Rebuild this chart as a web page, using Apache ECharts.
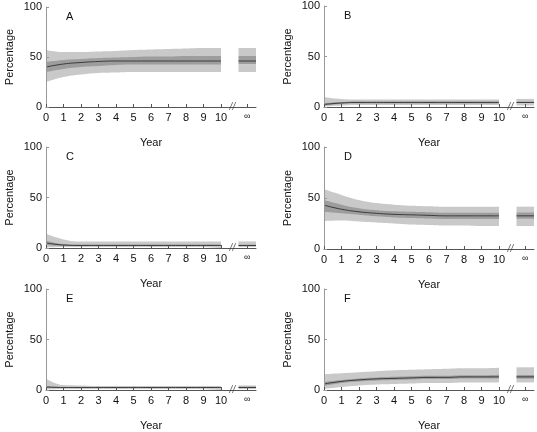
<!DOCTYPE html>
<html>
<head>
<meta charset="utf-8">
<script src="https://cdn.jsdelivr.net/npm/echarts@6/dist/echarts.min.js"></script>
<style>
html,body{margin:0;padding:0;background:#fff;}
#chart{width:537px;height:432px;}
</style>
</head>
<body>
<div id="chart"></div>
<script>
// ---------- DATA ----------
const years = [0, 1, 2, 3, 4, 5, 6, 7, 8, 9, 10];
const xTickValues = [0, 1, 2, 3, 4, 5, 6, 7, 8, 9, 10];
const panelLetters = ['A', 'B', 'C', 'D', 'E', 'F'];
const infLabel = '\u221e';

// Panel A
const A_mean    = [40, 43, 44.5, 45.5, 46, 46, 46, 46, 46, 46, 46];
const A_innerLo = [35, 38, 40, 41, 42, 42.5, 42.5, 42.5, 42.5, 42.5, 42.5];
const A_innerHi = [45, 47, 48, 49, 49.5, 50, 50.5, 50.5, 51, 51, 51];
const A_outerLo = [25, 30, 32.5, 34, 34.5, 35, 35, 35, 35, 35, 35];
const A_outerHi = [57, 55, 55, 55.5, 56, 57, 57.5, 58, 58.5, 59, 59];
const A_inf     = [46, 42.5, 51, 35, 59]; // mean, innerLo, innerHi, outerLo, outerHi

// Panel B
const B_mean    = [2.5, 4, 4.5, 4.5, 4.5, 4.5, 4.5, 4.5, 4.5, 4.5, 4.5];
const B_innerLo = [1.5, 3, 3.5, 3.5, 3.5, 3.5, 3.5, 3.5, 3.5, 3.5, 3.5];
const B_innerHi = [4, 5, 5.5, 5.5, 5.5, 5.5, 5.5, 5.5, 5.5, 5.5, 5.5];
const B_outerLo = [0.5, 1.5, 2, 2, 2, 2, 2, 2, 2, 2, 2];
const B_outerHi = [10, 8, 7.5, 7.5, 7.5, 7.5, 7.5, 7.5, 7.5, 7.5, 7.5];
const B_inf     = [4.5, 3.5, 5.5, 1.5, 8];

// Panel C
const C_mean    = [5, 3, 2.5, 2.5, 2.5, 2.5, 2.5, 2.5, 2.5, 2.5, 2.5];
const C_innerLo = [3, 2, 2, 2, 2, 2, 2, 2, 2, 2, 2];
const C_innerHi = [7.5, 4, 3.5, 3.5, 3.5, 3.5, 3.5, 3.5, 3.5, 3.5, 3.5];
const C_outerLo = [0.5, 1, 1, 1, 1, 1, 1, 1, 1, 1, 1];
const C_outerHi = [14, 8.5, 6.5, 6.5, 6.5, 6.5, 6.5, 6.5, 6.5, 6.5, 6.5];
const C_inf     = [2.5, 2, 3.5, 1, 6.5];

// Panel D
const D_mean    = [43, 39, 36.5, 35, 34, 33.5, 33, 32.5, 32.5, 32.5, 32.5];
const D_innerLo = [36.5, 35, 33.5, 32, 31, 30.5, 30, 29.5, 29.5, 29.5, 29.5];
const D_innerHi = [48, 43.5, 40, 38, 37, 36.5, 36, 35.5, 35.5, 35.5, 35.5];
const D_outerLo = [27.5, 28, 27, 26, 25, 24, 23.5, 23, 23, 22.5, 22.5];
const D_outerHi = [58.5, 53, 48, 45, 43.5, 42.5, 42, 41.5, 41.5, 41.5, 41.5];
const D_inf     = [32.5, 29.5, 36, 22.5, 41.5];

// Panel E
const E_mean    = [3, 2.5, 2.5, 2.5, 2.5, 2.5, 2.5, 2.5, 2.5, 2.5, 2.5];
const E_innerLo = [2, 2, 2, 2, 2, 2, 2, 2, 2, 2, 2];
const E_innerHi = [4, 3, 3, 3, 3, 3, 3, 3, 3, 3, 3];
const E_outerLo = [0.5, 1, 1, 1, 1, 1, 1, 1, 1, 1, 1];
const E_outerHi = [11.5, 5, 4.5, 4, 4, 4, 4, 4, 4, 4, 4];
const E_inf     = [2.5, 2, 3.5, 1, 4.5];

// Panel F
const F_mean    = [6, 8.5, 10, 11, 11.5, 12, 12.5, 12.5, 13, 13, 13];
const F_innerLo = [4, 7, 8.5, 9.5, 10, 10.5, 11, 11, 11.5, 11.5, 11.5];
const F_innerHi = [8, 10, 11.5, 12.5, 13, 13.5, 14, 14, 14.5, 14.5, 15];
const F_outerLo = [1, 3, 4.5, 5.5, 6, 6.5, 7, 7, 7.5, 7.5, 7.5];
const F_outerHi = [15.5, 16.5, 17.5, 18.5, 19.5, 20, 20.5, 21, 21.5, 21.5, 22];
const F_inf     = [13, 11, 15, 7.5, 22.5];

// ---------- LAYOUT / STYLE ----------
const INF_X0 = 11.0, INF_X1 = 12.0, INF_TICK = 11.5, BREAK_X = 10.65, X_MAX = 12;
const LIGHT = '#c9c9c9', DARK = '#9d9d9d', LINE = '#3a3a3a', BG = '#ffffff';
const FONT = "'Liberation Sans', Arial, Helvetica, sans-serif";

const panels = [
  {mean: A_mean, iLo: A_innerLo, iHi: A_innerHi, oLo: A_outerLo, oHi: A_outerHi, inf: A_inf},
  {mean: B_mean, iLo: B_innerLo, iHi: B_innerHi, oLo: B_outerLo, oHi: B_outerHi, inf: B_inf},
  {mean: C_mean, iLo: C_innerLo, iHi: C_innerHi, oLo: C_outerLo, oHi: C_outerHi, inf: C_inf},
  {mean: D_mean, iLo: D_innerLo, iHi: D_innerHi, oLo: D_outerLo, oHi: D_outerHi, inf: D_inf},
  {mean: E_mean, iLo: E_innerLo, iHi: E_innerHi, oLo: E_outerLo, oHi: E_outerHi, inf: E_inf},
  {mean: F_mean, iLo: F_innerLo, iHi: F_innerHi, oLo: F_outerLo, oHi: F_outerHi, inf: F_inf}
];

const gridPos = [
  {left: 46,  top: 7,   width: 210, height: 100},
  {left: 324, top: 6,   width: 210, height: 101},
  {left: 46,  top: 147, width: 210, height: 101},
  {left: 324, top: 147, width: 210, height: 102},
  {left: 46,  top: 289, width: 210, height: 102},
  {left: 324, top: 289, width: 210, height: 102}
];

const grids = [], xAxes = [], yAxes = [], series = [], titles = [];

function pairs(xs, ys) { return xs.map((x, i) => [x, ys[i]]); }

// filled area from 0 up to the curve; layered so that later fills cover earlier ones
function fillSeries(idx, xs, ys, color, smooth) {
  series.push({
    type: 'line', xAxisIndex: idx, yAxisIndex: idx, data: pairs(xs, ys),
    symbol: 'none', showSymbol: false, smooth: smooth, silent: true, animation: false,
    lineStyle: {width: 0, opacity: 0},
    areaStyle: {color: color, opacity: 1, origin: 'start'}
  });
}

function renderInfBlock(params, api) {
  const x0 = api.value(0), x1 = api.value(1);
  const oLo = api.value(2), iLo = api.value(3), iHi = api.value(4), oHi = api.value(5);
  function rect(lo, hi, color) {
    const a = api.coord([x0, hi]);
    const b = api.coord([x1, lo]);
    return {type: 'rect', shape: {x: a[0], y: a[1], width: b[0] - a[0], height: b[1] - a[1]},
            style: {fill: color}};
  }
  return {type: 'group', children: [
    rect(iHi, oHi, LIGHT),
    rect(iLo, iHi, DARK),
    rect(oLo, iLo, LIGHT)
  ]};
}

panels.forEach((p, i) => {
  const g = gridPos[i];
  grids.push(Object.assign({containLabel: false}, g));
  xAxes.push({
    type: 'value', gridIndex: i, min: 0, max: X_MAX, z: 10,
    name: 'Year', nameLocation: 'middle', nameGap: 30,
    nameTextStyle: {fontFamily: FONT, fontSize: 11, color: '#111'},
    axisLine: {lineStyle: {color: '#555', width: 1}},
    axisTick: {inside: true, length: 3, customValues: xTickValues.concat([INF_TICK]), lineStyle: {color: '#555'}},
    axisLabel: {
      customValues: xTickValues.concat([INF_TICK]), margin: 5,
      fontFamily: FONT, fontSize: 11, color: '#111',
      formatter: v => (Math.abs(v - INF_TICK) < 1e-6 ? '{inf|' + infLabel + '}' : String(v)),
      rich: {inf: {fontSize: 9, fontFamily: FONT, color: '#111'}}
    },
    splitLine: {show: false}
  });
  yAxes.push({
    type: 'value', gridIndex: i, min: 0, max: 100, interval: 50, z: 10,
    name: 'Percentage', nameLocation: 'middle', nameGap: 31, nameRotate: 90,
    nameTextStyle: {fontFamily: FONT, fontSize: 11, color: '#111'},
    axisLine: {show: true, lineStyle: {color: '#999', width: 1}},
    axisTick: {show: true, inside: true, length: 3, lineStyle: {color: '#999'}},
    axisLabel: {margin: 4, fontFamily: FONT, fontSize: 11, color: '#111'},
    splitLine: {show: false}
  });
  titles.push({
    text: panelLetters[i], left: g.left + 15, top: g.top - 1,
    textStyle: {fontFamily: FONT, fontSize: 11, fontWeight: 'normal', color: '#111'}
  });

  // main curves 0..10 (outer light, inner dark, covered below by white)
  fillSeries(i, years, p.oHi, LIGHT, true);
  fillSeries(i, years, p.iHi, DARK, true);
  fillSeries(i, years, p.iLo, LIGHT, true);
  fillSeries(i, years, p.oLo, BG, true);
  series.push({
    type: 'line', xAxisIndex: i, yAxisIndex: i, data: pairs(years, p.mean),
    symbol: 'none', smooth: true, silent: true, animation: false,
    lineStyle: {color: LINE, width: 1}
  });

  // infinity block
  series.push({
    type: 'custom', xAxisIndex: i, yAxisIndex: i, silent: true, animation: false,
    renderItem: renderInfBlock,
    dimensions: ['x0', 'x1', 'oLo', 'iLo', 'iHi', 'oHi'],
    encode: {x: [0, 1], y: [2, 3, 4, 5]},
    data: [[INF_X0, INF_X1, p.inf[3], p.inf[1], p.inf[2], p.inf[4]]]
  });
  series.push({
    type: 'line', xAxisIndex: i, yAxisIndex: i, data: pairs([INF_X0, INF_X1], [p.inf[0], p.inf[0]]),
    symbol: 'none', silent: true, animation: false,
    lineStyle: {color: LINE, width: 1}
  });

  // axis break mark
  series.push({
    type: 'scatter', xAxisIndex: i, yAxisIndex: i, data: [[BREAK_X, 0]],
    symbol: 'circle', symbolSize: 1, itemStyle: {color: 'rgba(0,0,0,0)'},
    clip: false, silent: true, animation: false, z: 12,
    label: {show: true, position: 'inside', formatter: '//', fontFamily: FONT,
            fontSize: 10, fontStyle: 'italic', color: '#333'}
  });
});

const chart = echarts.init(document.getElementById('chart'), null, {renderer: 'canvas'});
chart.setOption({
  animation: false,
  backgroundColor: BG,
  title: titles,
  grid: grids,
  xAxis: xAxes,
  yAxis: yAxes,
  series: series
});
</script>
</body>
</html>
